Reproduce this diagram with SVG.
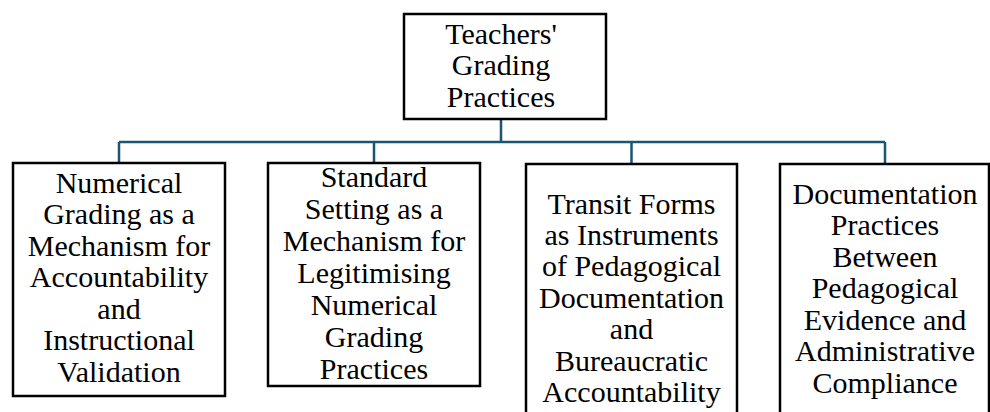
<svg xmlns="http://www.w3.org/2000/svg" width="990" height="412" viewBox="0 0 990 412">
<rect width="990" height="412" fill="#fff"/>
<g id="connectors" fill="none" stroke="#1b5572" stroke-width="2.5">
<path d="M501 120V142M119 142H885M119 142V163M374 142V163M631.5 142V164M885 142V164"/>
</g>
<g id="root">
<rect x="404" y="14" width="202" height="105" fill="#fff" stroke="#000" stroke-width="2.5"/>
<text x="501" y="43.5" style="font-family:'Liberation Serif',serif;font-size:30px" text-anchor="middle">Teachers'</text>
<text x="501" y="75" style="font-family:'Liberation Serif',serif;font-size:30px" text-anchor="middle">Grading</text>
<text x="501" y="106.5" style="font-family:'Liberation Serif',serif;font-size:30px" text-anchor="middle">Practices</text>
</g>
<g id="n1">
<rect x="13" y="163" width="212" height="233" fill="#fff" stroke="#000" stroke-width="2.5"/>
<text x="119" y="193" style="font-family:'Liberation Serif',serif;font-size:30px" text-anchor="middle">Numerical</text>
<text x="119" y="224.4" style="font-family:'Liberation Serif',serif;font-size:30px" text-anchor="middle">Grading as a</text>
<text x="119" y="255.8" style="font-family:'Liberation Serif',serif;font-size:30px" text-anchor="middle">Mechanism for</text>
<text x="119" y="287.2" style="font-family:'Liberation Serif',serif;font-size:30px" text-anchor="middle">Accountability</text>
<text x="119" y="318.6" style="font-family:'Liberation Serif',serif;font-size:30px" text-anchor="middle">and</text>
<text x="119" y="350" style="font-family:'Liberation Serif',serif;font-size:30px" text-anchor="middle">Instructional</text>
<text x="119" y="381.5" style="font-family:'Liberation Serif',serif;font-size:30px" text-anchor="middle">Validation</text>
</g>
<g id="n2">
<rect x="268" y="163" width="212" height="223" fill="#fff" stroke="#000" stroke-width="2.5"/>
<text x="374" y="186.5" style="font-family:'Liberation Serif',serif;font-size:30px" text-anchor="middle">Standard</text>
<text x="374" y="218.5" style="font-family:'Liberation Serif',serif;font-size:30px" text-anchor="middle">Setting as a</text>
<text x="374" y="250.5" style="font-family:'Liberation Serif',serif;font-size:30px" text-anchor="middle">Mechanism for</text>
<text x="374" y="282.5" style="font-family:'Liberation Serif',serif;font-size:30px" text-anchor="middle">Legitimising</text>
<text x="374" y="314.7" style="font-family:'Liberation Serif',serif;font-size:30px" text-anchor="middle">Numerical</text>
<text x="374" y="346.9" style="font-family:'Liberation Serif',serif;font-size:30px" text-anchor="middle">Grading</text>
<text x="374" y="379" style="font-family:'Liberation Serif',serif;font-size:30px" text-anchor="middle">Practices</text>
</g>
<g id="n3">
<rect x="526" y="164" width="211" height="260" fill="#fff" stroke="#000" stroke-width="2.5"/>
<text x="631.5" y="213.5" style="font-family:'Liberation Serif',serif;font-size:30px" text-anchor="middle">Transit Forms</text>
<text x="631.5" y="244.9" style="font-family:'Liberation Serif',serif;font-size:30px" text-anchor="middle">as Instruments</text>
<text x="631.5" y="276.3" style="font-family:'Liberation Serif',serif;font-size:30px" text-anchor="middle">of Pedagogical</text>
<text x="631.5" y="307.7" style="font-family:'Liberation Serif',serif;font-size:30px" text-anchor="middle">Documentation</text>
<text x="631.5" y="339.1" style="font-family:'Liberation Serif',serif;font-size:30px" text-anchor="middle">and</text>
<text x="631.5" y="370.5" style="font-family:'Liberation Serif',serif;font-size:30px" text-anchor="middle">Bureaucratic</text>
<text x="631.5" y="401.8" style="font-family:'Liberation Serif',serif;font-size:30px" text-anchor="middle">Accountability</text>
</g>
<g id="n4">
<rect x="780" y="164" width="209" height="260" fill="#fff" stroke="#000" stroke-width="2.5"/>
<text x="885" y="204" style="font-family:'Liberation Serif',serif;font-size:30px" text-anchor="middle">Documentation</text>
<text x="885" y="235.4" style="font-family:'Liberation Serif',serif;font-size:30px" text-anchor="middle">Practices</text>
<text x="885" y="266.8" style="font-family:'Liberation Serif',serif;font-size:30px" text-anchor="middle">Between</text>
<text x="885" y="298.2" style="font-family:'Liberation Serif',serif;font-size:30px" text-anchor="middle">Pedagogical</text>
<text x="885" y="329.6" style="font-family:'Liberation Serif',serif;font-size:30px" text-anchor="middle">Evidence and</text>
<text x="885" y="361" style="font-family:'Liberation Serif',serif;font-size:30px" text-anchor="middle">Administrative</text>
<text x="885" y="392.5" style="font-family:'Liberation Serif',serif;font-size:30px" text-anchor="middle">Compliance</text>
</g>
</svg>
